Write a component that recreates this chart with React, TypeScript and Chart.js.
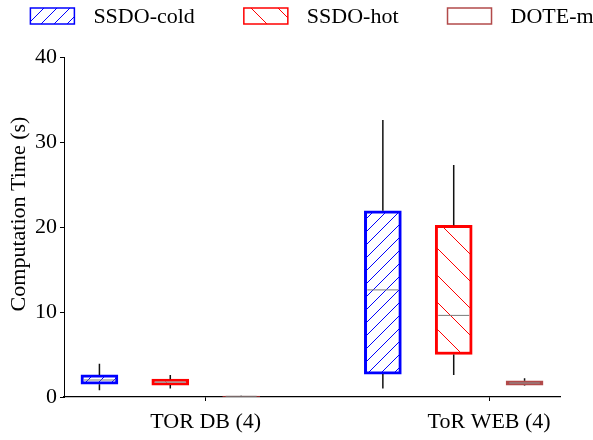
import React, { useEffect, useRef } from 'react';
import { Chart, registerables } from 'chart.js';

Chart.register(...registerables);

// ---- data ----
const categories = ['TOR DB (4)', 'ToR WEB (4)'];
const seriesNames = ['SSDO-cold', 'SSDO-hot', 'DOTE-m'];
const yTitle = 'Computation Time (s)';
// each entry: [min, q1, median, q3, max] for one category
const ssdoCold = [
  [0.8, 1.5, 2.0, 2.6, 3.9],
  [1.0, 2.7, 12.6, 21.9, 32.6],
];
const ssdoHot = [
  [1.0, 1.4, 1.75, 2.1, 2.6],
  [2.6, 5.0, 9.6, 20.2, 27.3],
];
const doteM = [
  [0.02, 0.04, 0.08, 0.12, 0.15],
  [1.35, 1.4, 1.65, 1.9, 2.2],
];
const yTicks = [0, 10, 20, 30, 40];

// ---- styling / layout ----
const FONT = "'Liberation Serif', 'Times New Roman', serif";
const seriesOffsets = [-0.375, -0.125, 0.125];
const borderColors = ['#0000ff', '#ff0000', 'rgba(165,42,42,0.85)'];

function makeHatch(color: string, size: number, dir: 'fwd' | 'back') {
  const c = document.createElement('canvas');
  c.width = size;
  c.height = size;
  const g = c.getContext('2d')!;
  g.fillStyle = '#ffffff';
  g.fillRect(0, 0, size, size);
  g.strokeStyle = color;
  g.lineWidth = 1;
  g.beginPath();
  if (dir === 'fwd') {
    g.moveTo(0, size); g.lineTo(size, 0);
    g.moveTo(-2, 2); g.lineTo(2, -2);
    g.moveTo(size - 2, size + 2); g.lineTo(size + 2, size - 2);
  } else {
    g.moveTo(0, 0); g.lineTo(size, size);
    g.moveTo(-2, size - 2); g.lineTo(2, size + 2);
    g.moveTo(size - 2, -2); g.lineTo(size + 2, 2);
  }
  g.stroke();
  return g.createPattern(c, 'repeat')!;
}

const boxPlugin = {
  id: 'boxWhiskers',
  afterDatasetsDraw(chart: any) {
    const ctx = chart.ctx;
    const yScale = chart.scales.y;
    chart.data.datasets.forEach((ds: any, i: number) => {
      const meta = chart.getDatasetMeta(i);
      meta.data.forEach((bar: any, j: number) => {
        const s = ds.stats[j];
        const x = bar.x;
        const half = bar.width / 2;
        const yMin = yScale.getPixelForValue(s[0]);
        const yQ1 = yScale.getPixelForValue(s[1]);
        const yMed = yScale.getPixelForValue(s[2]);
        const yQ3 = yScale.getPixelForValue(s[3]);
        const yMax = yScale.getPixelForValue(s[4]);
        ctx.save();
        ctx.strokeStyle = '#111';
        ctx.lineWidth = 1.5;
        ctx.beginPath();
        ctx.moveTo(x, yQ3);
        ctx.lineTo(x, yMax);
        ctx.moveTo(x, yQ1);
        ctx.lineTo(x, yMin);
        ctx.stroke();
        ctx.strokeStyle = '#7a7a7a';
        ctx.lineWidth = 1;
        ctx.beginPath();
        ctx.moveTo(x - half + 3, yMed);
        ctx.lineTo(x + half - 3, yMed);
        ctx.stroke();
        ctx.restore();
      });
    });
  },
};

const legendPlugin = {
  id: 'customLegend',
  afterDraw(chart: any) {
    const ctx = chart.ctx;
    const area = chart.chartArea;
    const boxW = 44;
    const boxH = 16;
    const gapText = 19;
    const gapItem = 49;
    ctx.save();
    ctx.font = `22px ${FONT}`;
    const widths = chart.data.datasets.map((ds: any) => ctx.measureText(ds.label).width);
    const total = widths.reduce((a: number, w: number) => a + boxW + gapText + w, 0) + gapItem * (widths.length - 1);
    let x = (area.left + area.right) / 2 - total / 2;
    const top = 8;
    chart.data.datasets.forEach((ds: any, i: number) => {
      ctx.fillStyle = ds.legendFill;
      ctx.fillRect(x, top, boxW, boxH);
      ctx.strokeStyle = ds.borderColor;
      ctx.lineWidth = 1.5;
      ctx.strokeRect(x, top, boxW, boxH);
      ctx.fillStyle = '#000';
      ctx.textAlign = 'left';
      ctx.textBaseline = 'middle';
      ctx.fillText(ds.label, x + boxW + gapText, top + boxH / 2 + 1);
      x += boxW + gapText + widths[i] + gapItem;
    });
    // y-axis title
    ctx.translate(19, (area.top + area.bottom) / 2 - 13);
    ctx.rotate(-Math.PI / 2);
    ctx.textAlign = 'center';
    ctx.textBaseline = 'middle';
    ctx.fillText(yTitle, 0, 0);
    ctx.restore();
  },
};

export default function App() {
  const ref = useRef<HTMLCanvasElement>(null);

  useEffect(() => {
    document.body.style.margin = '0';
    const canvas = ref.current!;
    const coldHatch = makeHatch('#0000ff', 13, 'fwd');
    const hotHatch = makeHatch('#ff0000', 27, 'back');
    const allStats = [ssdoCold, ssdoHot, doteM];
    const fills: any[] = [coldHatch, hotHatch, 'rgba(165,42,42,0.7)'];
    const legendFills: any[] = [coldHatch, hotHatch, '#ffffff'];

    const datasets = seriesNames.map((name, i) => ({
      label: name,
      data: allStats[i].map((s, j) => ({ x: j + seriesOffsets[i], y: [s[1], s[3]] })),
      stats: allStats[i],
      backgroundColor: fills[i],
      legendFill: legendFills[i],
      borderColor: borderColors[i],
      borderWidth: 3,
      borderSkipped: false,
      grouped: false,
      barThickness: 37,
    }));

    const chart = new Chart(canvas, {
      type: 'bar',
      data: { datasets } as any,
      plugins: [boxPlugin, legendPlugin],
      options: {
        responsive: false,
        animation: false,
        devicePixelRatio: 1,
        layout: { padding: { left: 0, right: 33, top: 57, bottom: 0 } },
        plugins: {
          legend: { display: false },
          tooltip: { enabled: false },
        },
        scales: {
          x: {
            type: 'linear',
            min: -0.5,
            max: 1.25,
            offset: false,
            afterBuildTicks: (scale: any) => {
              scale.ticks = categories.map((_, i) => ({ value: i }));
            },
            afterFit: (scale: any) => {
              scale.height = 43;
            },
            ticks: {
              callback: (v: any) => categories[Math.round(Number(v))] ?? '',
              color: '#000',
              font: { family: FONT, size: 22 },
              padding: 8,
              maxRotation: 0,
              autoSkip: false,
            },
            grid: { display: true, offset: false, drawOnChartArea: false, drawTicks: true, tickLength: 4, color: '#000' },
            border: { display: true, color: '#000', width: 1.3 },
          },
          y: {
            type: 'linear',
            min: 0,
            max: 40,
            afterBuildTicks: (scale: any) => {
              scale.ticks = yTicks.map((v) => ({ value: v }));
            },
            afterFit: (scale: any) => {
              scale.width = 64;
            },
            ticks: {
              color: '#000',
              font: { family: FONT, size: 22 },
              padding: 3,
            },
            title: { display: false },
            grid: { display: true, offset: false, drawOnChartArea: false, drawTicks: true, tickLength: 4, color: '#000' },
            border: { display: true, color: '#000', width: 1 },
          },
        },
      } as any,
    });
    return () => chart.destroy();
  }, []);

  return (
    <div style={{ width: 593, height: 440 }}>
      <canvas ref={ref} width={593} height={440} style={{ display: 'block' }} />
    </div>
  );
}
